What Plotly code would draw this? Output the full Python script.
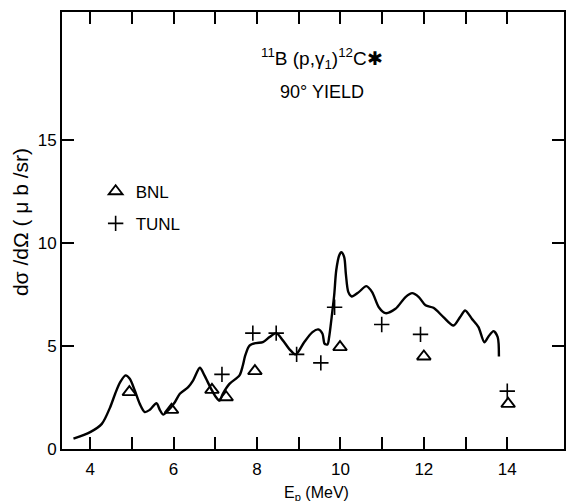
import plotly.graph_objects as go

# Smooth excitation curve (proton energy in MeV, cross section in µb/sr)
curve_e = [3.60, 4.00, 4.28, 4.48, 4.60, 4.72, 4.85, 4.95, 5.07, 5.19, 5.31, 5.43,
           5.59, 5.67, 5.75, 5.87, 6.03, 6.15, 6.35, 6.47, 6.63, 6.74, 6.90, 7.02,
           7.10, 7.18, 7.34, 7.58, 7.66, 7.72, 7.82, 7.98, 8.14, 8.30, 8.46, 8.62,
           8.77, 8.93, 9.13, 9.33, 9.47, 9.57, 9.62, 9.69, 9.73, 9.79, 9.85, 9.90,
           9.97, 10.02, 10.09, 10.13, 10.19, 10.27, 10.44, 10.62, 10.76, 10.92,
           11.08, 11.32, 11.56, 11.72, 11.88, 12.04, 12.23, 12.47, 12.71, 12.87,
           12.99, 13.15, 13.31, 13.45, 13.55, 13.67, 13.77, 13.80]
curve_y = [0.50, 0.82, 1.22, 2.03, 2.68, 3.24, 3.57, 3.41, 2.84, 2.19, 1.79, 1.90,
           2.22, 1.90, 1.67, 1.87, 2.27, 2.68, 3.00, 3.33, 3.94, 3.57, 2.92, 2.51,
           2.35, 2.68, 3.16, 3.57, 4.05, 4.55, 5.02, 5.14, 5.18, 5.43, 5.62, 5.27,
           4.86, 4.59, 5.18, 5.67, 5.80, 5.59, 5.11, 5.07, 5.43, 6.40, 7.45, 8.67,
           9.39, 9.55, 9.31, 8.50, 7.61, 7.40, 7.61, 7.90, 7.61, 6.88,
           6.59, 6.80, 7.37, 7.56, 7.37, 6.97, 6.85, 6.40, 5.99, 6.40,
           6.72, 6.32, 5.91, 5.18, 5.46, 5.72, 5.43, 4.49]

# BNL measurements
bnl_e = [4.94, 5.95, 6.92, 7.26, 7.95, 9.99, 12.00, 14.02]
bnl_y = [2.76, 1.90, 2.87, 2.51, 3.78, 4.94, 4.49, 2.19]

# TUNL measurements
tunl_e = [7.16, 7.90, 8.46, 8.95, 9.53, 9.86, 10.99, 11.92, 14.00]
tunl_y = [3.62, 5.62, 5.62, 4.59, 4.18, 6.88, 6.04, 5.56, 2.81]

x_ticks = list(range(4, 15))
x_tick_text = [str(v) if v % 2 == 0 else "" for v in x_ticks]
y_ticks = [0, 5, 10, 15]

X_RANGE = [3.325, 15.36]
Y_RANGE = [0, 21.2]
FONT = "Liberation Sans"

fig = go.Figure()

fig.add_trace(go.Scatter(
    x=curve_e, y=curve_y, mode="lines",
    line=dict(color="black", width=2.4, shape="spline", smoothing=0.8),
    showlegend=False, hoverinfo="skip"))
fig.add_trace(go.Scatter(
    x=bnl_e, y=bnl_y, mode="markers", name="BNL", legendgroup="bnl",
    marker=dict(symbol="triangle-up-open", size=12, color="black",
                line=dict(color="black", width=1.9))))
fig.add_trace(go.Scatter(
    x=tunl_e, y=tunl_y, mode="markers", name="TUNL", legendgroup="tunl",
    marker=dict(symbol="cross-thin", size=11, color="black",
                line=dict(color="black", width=1.6))))

# Closed frame with inward ticks repeated on the opposite sides
axis_common = dict(
    showline=True, linecolor="black", linewidth=2, mirror="allticks",
    ticks="inside", ticklen=12, tickwidth=2, tickcolor="black",
    showgrid=False, zeroline=False,
    tickfont=dict(family=FONT, size=17, color="black"))

fig.update_xaxes(range=X_RANGE, tickmode="array", tickvals=x_ticks,
                 ticktext=x_tick_text, ticklabelstandoff=4, **axis_common)
fig.update_yaxes(range=Y_RANGE, tickmode="array", tickvals=y_ticks,
                 **axis_common)

fig.add_annotation(text="<sup>11</sup>B (p,γ<sub>1</sub>)<sup>12</sup>C✱",
                   xref="paper", yref="paper", x=0.518, y=0.929,
                   xanchor="center", yanchor="top",
                   showarrow=False, font=dict(family=FONT, size=19, color="black"))
fig.add_annotation(text="90° YIELD", xref="paper", yref="paper", x=0.518, y=0.845,
                   xanchor="center", yanchor="top",
                   showarrow=False, font=dict(family=FONT, size=18, color="black"))
fig.add_annotation(text="dσ /dΩ ( μ b /sr)", xref="paper", yref="paper",
                   x=-0.083, y=0.52, xanchor="center", yanchor="middle",
                   textangle=-90, showarrow=False,
                   font=dict(family=FONT, size=21, color="black"))
fig.add_annotation(text="E<sub>p</sub> (MeV)", xref="paper", yref="paper",
                   x=0.506, y=-0.076, xanchor="center", yanchor="top",
                   showarrow=False,
                   font=dict(family=FONT, size=16, color="black"))

fig.update_layout(
    width=567, height=501,
    margin=dict(l=62, r=1, t=12, b=52),
    paper_bgcolor="white", plot_bgcolor="white",
    legend=dict(x=0.067, y=0.63, xanchor="left", yanchor="top",
                bgcolor="rgba(0,0,0,0)", tracegroupgap=7,
                font=dict(family=FONT, size=17, color="black")),
)

fig.write_html("out.html")
